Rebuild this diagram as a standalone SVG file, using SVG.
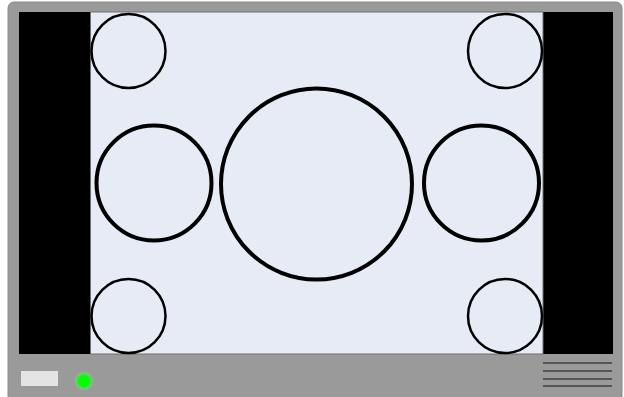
<svg xmlns="http://www.w3.org/2000/svg" width="624" height="397" viewBox="0 0 624 397">
<defs>
<style>
.c{fill:none;stroke:#000}
.t{stroke-width:2.5}
.k{stroke-width:4}
.v{stroke:#555;stroke-width:2}
</style>
<radialGradient id="g"><stop offset="0.5" stop-color="#00ff00"/><stop offset="0.75" stop-color="#7fd07f" stop-opacity="0.6"/><stop offset="1" stop-color="#9a9a9a" stop-opacity="0"/></radialGradient>
</defs>
<rect width="624" height="397" fill="#fff"/>
<g id="frame">
<rect x="8" y="2" width="614" height="400" rx="6" fill="#9a9a9a" stroke="#8a8a8a" stroke-width="1"/>
<rect x="19" y="12" width="594" height="342" fill="#000"/>
<rect x="90.5" y="12" width="452.5" height="342" fill="#e6ebf5" stroke="#6e6e6e" stroke-width="1"/>
<rect x="21" y="371" width="37" height="15" fill="#e4e4e4"/>
<circle cx="84" cy="381" r="11" fill="url(#g)"/>
<line class="v" x1="543" y1="363" x2="612" y2="363"/>
<line class="v" x1="543" y1="371" x2="612" y2="371"/>
<line class="v" x1="543" y1="379" x2="612" y2="379"/>
<line class="v" x1="543" y1="386" x2="612" y2="386"/>
</g>
<g id="c-tl"><circle class="c t" cx="128.5" cy="51" r="37"/></g>
<g id="c-tr"><circle class="c t" cx="505" cy="51" r="37"/></g>
<g id="c-bl"><circle class="c t" cx="128.5" cy="316" r="37"/></g>
<g id="c-br"><circle class="c t" cx="505" cy="316" r="37"/></g>
<g id="c-ml"><circle class="c k" cx="154" cy="183" r="57.5"/></g>
<g id="c-mr"><circle class="c k" cx="481.5" cy="183" r="57.5"/></g>
<g id="c-big"><circle class="c k" cx="316.5" cy="184" r="95.5"/></g>
<g id="connectors"/>
</svg>
